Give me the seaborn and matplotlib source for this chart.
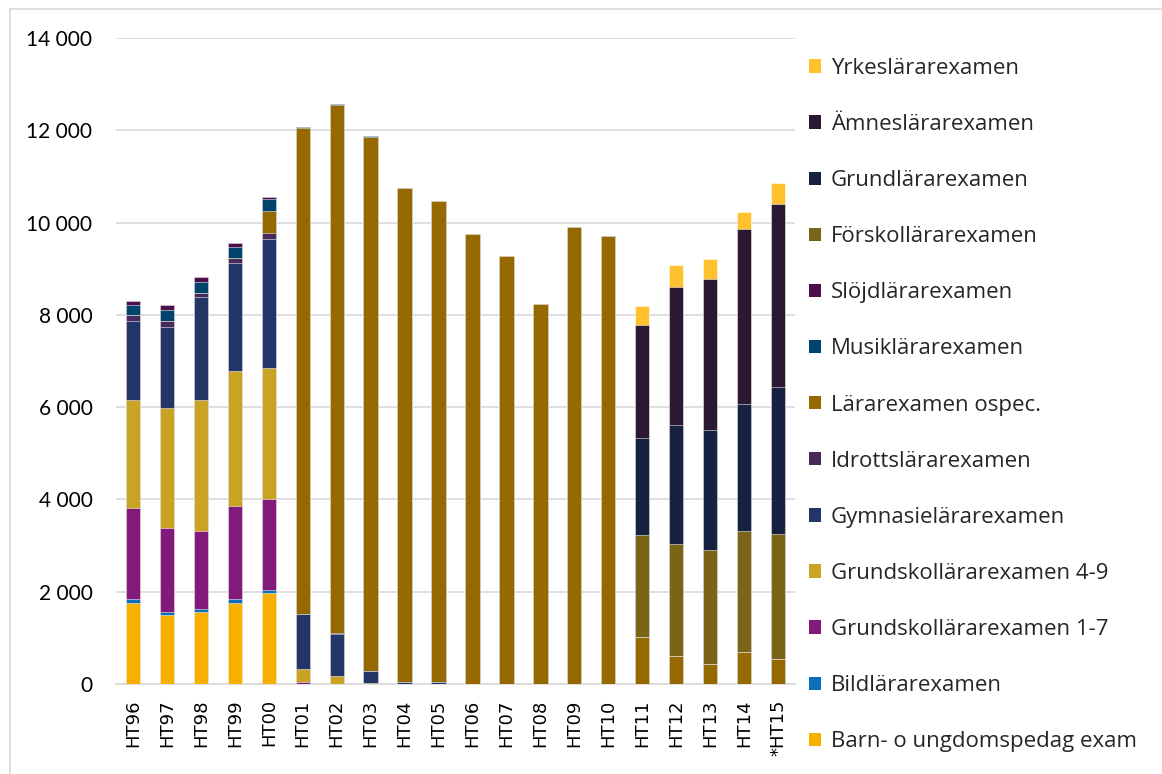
import matplotlib

matplotlib.use("Agg")
import matplotlib.pyplot as plt
import numpy as np
import pandas as pd
import seaborn as sns
from matplotlib.patches import Rectangle
from matplotlib.ticker import FuncFormatter

terms = ["HT96", "HT97", "HT98", "HT99", "HT00", "HT01", "HT02", "HT03", "HT04", "HT05",
         "HT06", "HT07", "HT08", "HT09", "HT10", "HT11", "HT12", "HT13", "HT14", "*HT15"]

# stacking order: bottom -> top
barn = [1750, 1500, 1560, 1760, 1980, 0, 0, 0, 0, 0, 0, 0, 0, 0, 0, 0, 0, 0, 0, 0]
bild = [85, 65, 65, 72, 58, 0, 0, 0, 0, 0, 0, 0, 0, 0, 0, 0, 0, 0, 0, 0]
gsk17 = [1987, 1820, 1698, 2030, 1979, 40, 0, 0, 0, 0, 0, 0, 0, 0, 0, 0, 0, 0, 0, 0]
gsk49 = [2327, 2594, 2832, 2912, 2833, 290, 180, 30, 0, 0, 0, 0, 0, 0, 0, 0, 0, 0, 0, 0]
gymn = [1712, 1748, 2226, 2341, 2788, 1190, 900, 250, 50, 40, 0, 0, 0, 0, 0, 0, 0, 0, 0, 0]
idrott = [130, 145, 100, 108, 130, 0, 30, 0, 0, 0, 0, 0, 0, 0, 0, 0, 0, 0, 0, 0]
ospec = [0, 0, 0, 0, 491, 10540, 11430, 11575, 10707, 10421, 9760, 9276, 8236, 9897, 9703,
         1021, 609, 431, 691, 542]
musik = [217, 238, 239, 238, 246, 20, 20, 20, 0, 0, 0, 0, 0, 0, 0, 0, 0, 0, 0, 0]
slojd = [87, 101, 100, 100, 57, 0, 0, 0, 0, 0, 0, 0, 0, 0, 0, 0, 0, 0, 0, 0]
forskol = [0, 0, 0, 0, 0, 0, 0, 0, 0, 0, 0, 0, 0, 0, 0, 2213, 2423, 2480, 2625, 2698]
grundl = [0, 0, 0, 0, 0, 0, 0, 0, 0, 0, 0, 0, 0, 0, 0, 2106, 2586, 2601, 2757, 3206]
amnes = [0, 0, 0, 0, 0, 0, 0, 0, 0, 0, 0, 0, 0, 0, 0, 2446, 2995, 3266, 3782, 3961]
yrkes = [0, 0, 0, 0, 0, 0, 0, 0, 0, 0, 0, 0, 0, 0, 0, 409, 464, 427, 373, 443]

series = [
    ("Barn- o ungdomspedag exam", barn, "#F8B000"),
    ("Bildlärarexamen", bild, "#0B6FBA"),
    ("Grundskollärarexamen 1-7", gsk17, "#821A7C"),
    ("Grundskollärarexamen 4-9", gsk49, "#C9A324"),
    ("Gymnasielärarexamen", gymn, "#243668"),
    ("Idrottslärarexamen", idrott, "#472B5B"),
    ("Lärarexamen ospec.", ospec, "#966900"),
    ("Musiklärarexamen", musik, "#00436C"),
    ("Slöjdlärarexamen", slojd, "#4D0F4B"),
    ("Förskollärarexamen", forskol, "#7A6418"),
    ("Grundlärarexamen", grundl, "#172242"),
    ("Ämneslärarexamen", amnes, "#2B1833"),
    ("Yrkeslärarexamen", yrkes, "#FFC12E"),
]

sns.set_theme(style="white")
plt.rcParams["font.family"] = ["Lato", "DejaVu Sans"]

fig = plt.figure(figsize=(11.62, 7.74), dpi=100)
ax = fig.add_axes([116 / 1162, 1 - 684 / 774, (795 - 116) / 1162, (684 - 38) / 774])

# stacked bars: draw cumulative totals from the top layer down
df = pd.DataFrame({name: vals for name, vals, _ in series}, index=terms)
cum = df.cumsum(axis=1)
handles = []
for name, _, color in reversed(series):
    sns.barplot(x=terms, y=cum[name].values, color=color, width=0.42, ax=ax,
                edgecolor=(1, 1, 1, 0.6), linewidth=0.6, saturation=1, zorder=3)
    handles.append(Rectangle((0, 0), 1, 1, facecolor=color, edgecolor="none"))

ax.set_ylim(0, 14000)
ax.set_xlim(-0.5, len(terms) - 0.5)
ax.set_yticks(np.arange(0, 14001, 2000))
ax.yaxis.set_major_formatter(FuncFormatter(lambda v, _: f"{int(v):,}".replace(",", " ")))
ax.grid(axis="y", color="#D9D9D9", linewidth=1.2, zorder=0)
ax.set_axisbelow(True)
for s in ["left", "right", "top"]:
    ax.spines[s].set_visible(False)
ax.spines["bottom"].set_color("#D9D9D9")
ax.spines["bottom"].set_linewidth(1.2)
ax.tick_params(axis="y", length=0, pad=17, labelsize=15, labelcolor="black")
ax.tick_params(axis="x", length=0, pad=11, labelsize=13, labelcolor="black")
for lbl in ax.get_xticklabels():
    lbl.set_rotation(90)
    lbl.set_family("DejaVu Sans")
ax.set_xlabel("")
ax.set_ylabel("")

fig.legend(handles, [name for name, _, _ in reversed(series)], loc="upper left",
           bbox_to_anchor=(800 / 1162, 1 - 49 / 774), frameon=False,
           prop={"family": "Open Sans", "size": 16},
           handlelength=0.55, handleheight=0.55, handletextpad=0.45, labelspacing=1.58,
           borderaxespad=0)

# outer chart frame (left and top edges visible)
fig.patches.append(Rectangle((10 / 1162, -0.1), 1.2, 1 - 9 / 774 + 0.1, transform=fig.transFigure,
                             fill=False, edgecolor="#D9D9D9", linewidth=1.2))

fig.savefig("out.png", dpi=100)
